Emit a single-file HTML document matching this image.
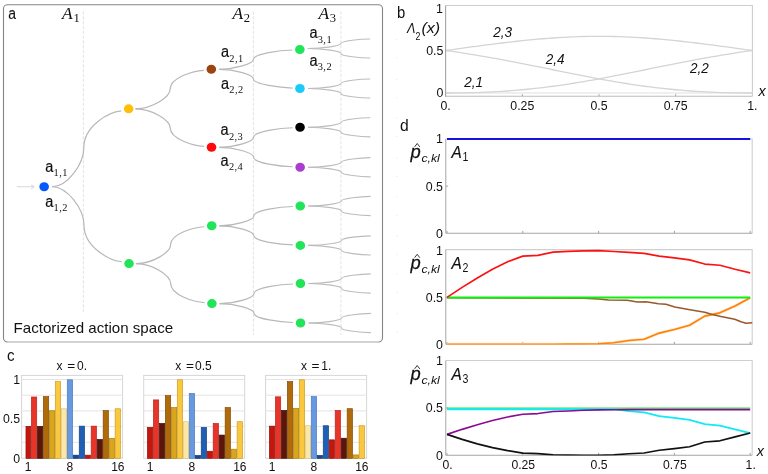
<!DOCTYPE html>
<html><head><meta charset="utf-8"><title>Factorized action space</title>
<style>
html,body{margin:0;padding:0;background:#fff;}
body{width:768px;height:474px;overflow:hidden;font-family:"Liberation Sans",sans-serif;}
svg{will-change:transform;}
svg text{white-space:pre;}
</style></head><body>
<svg width="768" height="474" viewBox="0 0 768 474" style="display:block">
<rect x="3.5" y="4.7" width="379" height="337.3" rx="4" ry="4" fill="#fff" stroke="#858585" stroke-width="1.1"/>
<line x1="7.5" y1="342" x2="378.5" y2="342" stroke="#ffffff" stroke-opacity="0.38" stroke-width="1.5"/>
<line x1="83.4" y1="11.5" x2="83.4" y2="312.5" stroke="#dcdcdc" stroke-width="0.8" stroke-dasharray="3.2 1.6"/>
<line x1="253.4" y1="11.5" x2="253.4" y2="335" stroke="#dcdcdc" stroke-width="0.8" stroke-dasharray="3.2 1.6"/>
<line x1="340.9" y1="11.5" x2="340.9" y2="335" stroke="#dcdcdc" stroke-width="0.8" stroke-dasharray="3.2 1.6"/>
<g transform="matrix(1,0,0.0026,1,-0.18,0)">
<path d="M51.85,186.75 C66.93,186.75 83.60,164.16 83.60,147.80 C83.60,125.23 109.89,111.63 121.15,110.80" fill="none" stroke="#b8b8b8" stroke-width="1.22"/>
<path d="M51.85,186.75 C66.93,186.75 83.60,209.04 83.60,225.18 C83.60,247.44 109.89,260.86 121.15,261.68" fill="none" stroke="#b8b8b8" stroke-width="1.22"/>
<path d="M135.35,108.85 C151.86,108.85 170.10,97.38 170.10,89.07 C170.10,77.62 193.76,70.71 203.90,70.29" fill="none" stroke="#b8b8b8" stroke-width="1.22"/>
<path d="M135.35,108.85 C151.86,108.85 170.10,120.00 170.10,128.07 C170.10,139.22 193.76,145.93 203.90,146.34" fill="none" stroke="#b8b8b8" stroke-width="1.22"/>
<path d="M135.35,263.60 C151.86,263.60 170.10,252.64 170.10,244.70 C170.10,233.75 193.76,227.15 203.90,226.75" fill="none" stroke="#b8b8b8" stroke-width="1.22"/>
<path d="M135.35,263.60 C151.86,263.60 170.10,275.20 170.10,283.60 C170.10,295.19 193.76,302.17 203.90,302.60" fill="none" stroke="#b8b8b8" stroke-width="1.22"/>
<path d="M219.00,69.30 C235.34,69.30 253.40,63.56 253.40,59.40 C253.40,53.66 280.77,50.21 292.50,49.99" fill="none" stroke="#b8b8b8" stroke-width="1.22"/>
<path d="M219.00,69.30 C235.34,69.30 253.40,74.87 253.40,78.90 C253.40,84.46 280.77,87.81 292.50,88.02" fill="none" stroke="#b8b8b8" stroke-width="1.22"/>
<path d="M219.00,147.30 C235.34,147.30 253.40,141.49 253.40,137.28 C253.40,131.47 280.77,127.97 292.50,127.75" fill="none" stroke="#b8b8b8" stroke-width="1.22"/>
<path d="M219.00,147.30 C235.34,147.30 253.40,153.09 253.40,157.28 C253.40,163.06 280.77,166.54 292.50,166.75" fill="none" stroke="#b8b8b8" stroke-width="1.22"/>
<path d="M219.00,225.80 C235.34,225.80 253.40,220.06 253.40,215.90 C253.40,210.16 280.77,206.71 292.50,206.50" fill="none" stroke="#b8b8b8" stroke-width="1.22"/>
<path d="M219.00,225.80 C235.34,225.80 253.40,231.48 253.40,235.60 C253.40,241.28 280.77,244.70 292.50,244.91" fill="none" stroke="#b8b8b8" stroke-width="1.22"/>
<path d="M219.00,303.60 C235.34,303.60 253.40,297.77 253.40,293.55 C253.40,287.73 280.77,284.22 292.50,284.00" fill="none" stroke="#b8b8b8" stroke-width="1.22"/>
<path d="M219.00,303.60 C235.34,303.60 253.40,309.23 253.40,313.30 C253.40,318.92 280.77,322.31 292.50,322.51" fill="none" stroke="#b8b8b8" stroke-width="1.22"/>
<path d="M307.90,48.50 C323.62,48.50 341.00,45.66 341.00,43.60 C341.00,40.76 361.44,39.05 370.20,38.95" fill="none" stroke="#bcbcbc" stroke-width="1.15"/>
<rect x="396" y="38.69" width="1" height="1" fill="#e4e4e4"/>
<path d="M307.90,48.50 C323.62,48.50 341.00,51.34 341.00,53.40 C341.00,56.24 361.44,57.95 370.20,58.05" fill="none" stroke="#bcbcbc" stroke-width="1.15"/>
<rect x="396" y="57.31" width="1" height="1" fill="#e4e4e4"/>
<path d="M307.90,88.50 C323.62,88.50 341.00,85.66 341.00,83.60 C341.00,80.76 361.44,79.05 370.20,78.95" fill="none" stroke="#bcbcbc" stroke-width="1.15"/>
<rect x="396" y="78.69" width="1" height="1" fill="#e4e4e4"/>
<path d="M307.90,88.50 C323.62,88.50 341.00,91.34 341.00,93.40 C341.00,96.24 361.44,97.95 370.20,98.05" fill="none" stroke="#bcbcbc" stroke-width="1.15"/>
<rect x="396" y="97.31" width="1" height="1" fill="#e4e4e4"/>
<path d="M307.90,127.25 C323.62,127.25 341.00,124.41 341.00,122.35 C341.00,119.51 361.44,117.80 370.20,117.70" fill="none" stroke="#bcbcbc" stroke-width="1.15"/>
<rect x="396" y="117.44" width="1" height="1" fill="#e4e4e4"/>
<path d="M307.90,127.25 C323.62,127.25 341.00,130.09 341.00,132.15 C341.00,134.99 361.44,136.70 370.20,136.81" fill="none" stroke="#bcbcbc" stroke-width="1.15"/>
<rect x="396" y="136.06" width="1" height="1" fill="#e4e4e4"/>
<path d="M307.90,167.25 C323.62,167.25 341.00,164.41 341.00,162.35 C341.00,159.51 361.44,157.80 370.20,157.69" fill="none" stroke="#bcbcbc" stroke-width="1.15"/>
<rect x="396" y="157.44" width="1" height="1" fill="#e4e4e4"/>
<path d="M307.90,167.25 C323.62,167.25 341.00,170.09 341.00,172.15 C341.00,174.99 361.44,176.70 370.20,176.81" fill="none" stroke="#bcbcbc" stroke-width="1.15"/>
<rect x="396" y="176.06" width="1" height="1" fill="#e4e4e4"/>
<path d="M307.90,206.00 C323.62,206.00 341.00,203.16 341.00,201.10 C341.00,198.26 361.44,196.55 370.20,196.44" fill="none" stroke="#bcbcbc" stroke-width="1.15"/>
<rect x="396" y="196.19" width="1" height="1" fill="#e4e4e4"/>
<path d="M307.90,206.00 C323.62,206.00 341.00,208.84 341.00,210.90 C341.00,213.74 361.44,215.45 370.20,215.56" fill="none" stroke="#bcbcbc" stroke-width="1.15"/>
<rect x="396" y="214.81" width="1" height="1" fill="#e4e4e4"/>
<path d="M307.90,245.40 C323.62,245.40 341.00,242.56 341.00,240.50 C341.00,237.66 361.44,235.95 370.20,235.84" fill="none" stroke="#bcbcbc" stroke-width="1.15"/>
<rect x="396" y="235.59" width="1" height="1" fill="#e4e4e4"/>
<path d="M307.90,245.40 C323.62,245.40 341.00,248.24 341.00,250.30 C341.00,253.14 361.44,254.85 370.20,254.96" fill="none" stroke="#bcbcbc" stroke-width="1.15"/>
<rect x="396" y="254.21" width="1" height="1" fill="#e4e4e4"/>
<path d="M307.90,283.50 C323.62,283.50 341.00,280.66 341.00,278.60 C341.00,275.76 361.44,274.05 370.20,273.94" fill="none" stroke="#bcbcbc" stroke-width="1.15"/>
<rect x="396" y="273.69" width="1" height="1" fill="#e4e4e4"/>
<path d="M307.90,283.50 C323.62,283.50 341.00,286.34 341.00,288.40 C341.00,291.24 361.44,292.95 370.20,293.06" fill="none" stroke="#bcbcbc" stroke-width="1.15"/>
<rect x="396" y="292.31" width="1" height="1" fill="#e4e4e4"/>
<path d="M307.90,323.00 C323.62,323.00 341.00,320.16 341.00,318.10 C341.00,315.26 361.44,313.55 370.20,313.44" fill="none" stroke="#bcbcbc" stroke-width="1.15"/>
<rect x="396" y="313.19" width="1" height="1" fill="#e4e4e4"/>
<path d="M307.90,323.00 C323.62,323.00 341.00,325.84 341.00,327.90 C341.00,330.74 361.44,332.45 370.20,332.56" fill="none" stroke="#bcbcbc" stroke-width="1.15"/>
<rect x="396" y="331.81" width="1" height="1" fill="#e4e4e4"/>
<path d="M16.5,186.8 H33.4" stroke="#d8d8d8" stroke-width="1.1" fill="none"/>
<path d="M30.9,184.8 L33.7,186.8 L30.9,188.8" stroke="#d8d8d8" stroke-width="1" fill="none"/>
<ellipse cx="43.85" cy="186.75" rx="4.8" ry="4.5" fill="#0459fc"/>
<ellipse cx="128.55" cy="108.85" rx="4.8" ry="4.5" fill="#ffbe08"/>
<ellipse cx="128.55" cy="263.60" rx="4.8" ry="4.5" fill="#22e459"/>
<ellipse cx="211.30" cy="69.30" rx="4.8" ry="4.5" fill="#9c4310"/>
<ellipse cx="211.30" cy="147.30" rx="4.8" ry="4.5" fill="#ff0909"/>
<ellipse cx="211.30" cy="225.80" rx="4.8" ry="4.5" fill="#22e459"/>
<ellipse cx="211.30" cy="303.60" rx="4.8" ry="4.5" fill="#22e459"/>
<ellipse cx="299.90" cy="49.50" rx="4.8" ry="4.5" fill="#22e459"/>
<ellipse cx="299.90" cy="88.50" rx="4.8" ry="4.5" fill="#19ccf8"/>
<ellipse cx="299.90" cy="127.25" rx="4.8" ry="4.5" fill="#000000"/>
<ellipse cx="299.90" cy="167.25" rx="4.8" ry="4.5" fill="#a83fd0"/>
<ellipse cx="299.90" cy="206.00" rx="4.8" ry="4.5" fill="#22e459"/>
<ellipse cx="299.90" cy="245.40" rx="4.8" ry="4.5" fill="#22e459"/>
<ellipse cx="299.90" cy="283.50" rx="4.8" ry="4.5" fill="#22e459"/>
<ellipse cx="299.90" cy="323.00" rx="4.8" ry="4.5" fill="#22e459"/>
</g>
<text transform="translate(8.2,19.4) scale(0.82,1)" style="font-family:'Liberation Sans', sans-serif;font-size:17px;" fill="#111" stroke="#111" stroke-width="0.12">a</text>
<text x="62.1" y="18.6" style="font-family:'Liberation Serif', serif;font-size:17.4px;font-style:italic;" fill="#111">A</text>
<text x="73.4" y="21.5" style="font-family:'Liberation Serif', serif;font-size:12.6px;" fill="#111">1</text>
<text x="232.5" y="18.6" style="font-family:'Liberation Serif', serif;font-size:17.4px;font-style:italic;" fill="#111">A</text>
<text x="243.8" y="21.5" style="font-family:'Liberation Serif', serif;font-size:12.6px;" fill="#111">2</text>
<text x="318.5" y="18.6" style="font-family:'Liberation Serif', serif;font-size:17.4px;font-style:italic;" fill="#111">A</text>
<text x="329.8" y="21.5" style="font-family:'Liberation Serif', serif;font-size:12.6px;" fill="#111">3</text>
<text transform="translate(45.2,172.05) scale(0.84,1)" style="font-family:'Liberation Sans', sans-serif;font-size:17.3px;" fill="#111" stroke="#111" stroke-width="0.2">a</text>
<text x="53.5" y="176.4" style="font-family:'Liberation Serif', serif;font-size:10.4px;" fill="#111" letter-spacing="0.45">1,1</text>
<text transform="translate(45.2,207.05) scale(0.84,1)" style="font-family:'Liberation Sans', sans-serif;font-size:17.3px;" fill="#111" stroke="#111" stroke-width="0.2">a</text>
<text x="53.5" y="211.4" style="font-family:'Liberation Serif', serif;font-size:10.4px;" fill="#111" letter-spacing="0.45">1,2</text>
<text transform="translate(221.0,57.25) scale(0.84,1)" style="font-family:'Liberation Sans', sans-serif;font-size:17.3px;" fill="#111" stroke="#111" stroke-width="0.2">a</text>
<text x="229.3" y="61.6" style="font-family:'Liberation Serif', serif;font-size:10.4px;" fill="#111" letter-spacing="0.45">2,1</text>
<text transform="translate(221.0,88.55) scale(0.84,1)" style="font-family:'Liberation Sans', sans-serif;font-size:17.3px;" fill="#111" stroke="#111" stroke-width="0.2">a</text>
<text x="229.3" y="92.89999999999999" style="font-family:'Liberation Serif', serif;font-size:10.4px;" fill="#111" letter-spacing="0.45">2,2</text>
<text transform="translate(220.6,135.25) scale(0.84,1)" style="font-family:'Liberation Sans', sans-serif;font-size:17.3px;" fill="#111" stroke="#111" stroke-width="0.2">a</text>
<text x="228.9" y="139.6" style="font-family:'Liberation Serif', serif;font-size:10.4px;" fill="#111" letter-spacing="0.45">2,3</text>
<text transform="translate(220.6,166.05) scale(0.84,1)" style="font-family:'Liberation Sans', sans-serif;font-size:17.3px;" fill="#111" stroke="#111" stroke-width="0.2">a</text>
<text x="228.9" y="170.4" style="font-family:'Liberation Serif', serif;font-size:10.4px;" fill="#111" letter-spacing="0.45">2,4</text>
<text transform="translate(309.4,38.25) scale(0.84,1)" style="font-family:'Liberation Sans', sans-serif;font-size:17.3px;" fill="#111" stroke="#111" stroke-width="0.2">a</text>
<text x="317.7" y="42.6" style="font-family:'Liberation Serif', serif;font-size:10.4px;" fill="#111" letter-spacing="0.45">3,1</text>
<text transform="translate(309.4,66.05) scale(0.84,1)" style="font-family:'Liberation Sans', sans-serif;font-size:17.3px;" fill="#111" stroke="#111" stroke-width="0.2">a</text>
<text x="317.7" y="70.39999999999999" style="font-family:'Liberation Serif', serif;font-size:10.4px;" fill="#111" letter-spacing="0.45">3,2</text>
<text x="13.6" y="332.6" style="font-family:'Liberation Sans', sans-serif;font-size:14.2px;" fill="#111" textLength="159.5" lengthAdjust="spacingAndGlyphs">Factorized action space</text>
<text transform="translate(7.0,361.2) scale(0.92,1)" style="font-family:'Liberation Sans', sans-serif;font-size:16.5px;" fill="#111">c</text>
<rect x="21.6" y="375.4" width="101.0" height="82.80000000000001" fill="#fff" stroke="#d6d6d6" stroke-width="1"/>
<line x1="21.6" y1="442.30" x2="122.6" y2="442.30" stroke="#e4e4e4" stroke-width="1"/>
<line x1="21.6" y1="426.60" x2="122.6" y2="426.60" stroke="#e4e4e4" stroke-width="1"/>
<line x1="21.6" y1="410.90" x2="122.6" y2="410.90" stroke="#e4e4e4" stroke-width="1"/>
<line x1="21.6" y1="395.20" x2="122.6" y2="395.20" stroke="#e4e4e4" stroke-width="1"/>
<line x1="21.6" y1="379.50" x2="122.6" y2="379.50" stroke="#e4e4e4" stroke-width="1"/>
<rect x="25.97" y="426.35" width="4.78" height="32.05" fill="#c4160c" stroke="#8d0f08" stroke-width="0.65"/>
<rect x="31.35" y="396.99" width="5.38" height="61.41" fill="#e8352a" stroke="#b3241c" stroke-width="0.65"/>
<rect x="37.34" y="426.35" width="5.38" height="32.05" fill="#5c150b" stroke="#3a0c06" stroke-width="0.65"/>
<rect x="43.32" y="396.60" width="5.38" height="61.80" fill="#b06a09" stroke="#7d4a05" stroke-width="0.65"/>
<rect x="49.30" y="410.73" width="5.38" height="47.67" fill="#d9a51d" stroke="#a67c12" stroke-width="0.65"/>
<rect x="55.28" y="381.61" width="5.38" height="76.79" fill="#fac83e" stroke="#c99a22" stroke-width="0.65"/>
<rect x="61.27" y="408.77" width="5.38" height="49.63" fill="#fde7a6" stroke="#d9c27e" stroke-width="0.65"/>
<rect x="67.25" y="379.80" width="5.38" height="78.60" fill="#6699e0" stroke="#4a78b8" stroke-width="0.65"/>
<rect x="73.23" y="455.16" width="5.38" height="3.24" fill="#18488f" stroke="#0f3266" stroke-width="0.65"/>
<rect x="79.22" y="426.12" width="5.38" height="32.28" fill="#1f5fb6" stroke="#15437f" stroke-width="0.65"/>
<rect x="85.20" y="455.16" width="5.38" height="3.24" fill="#c4160c" stroke="#8d0f08" stroke-width="0.65"/>
<rect x="91.18" y="426.12" width="5.38" height="32.28" fill="#e8352a" stroke="#b3241c" stroke-width="0.65"/>
<rect x="97.17" y="439.46" width="5.38" height="18.94" fill="#5c150b" stroke="#3a0c06" stroke-width="0.65"/>
<rect x="103.15" y="410.57" width="5.38" height="47.83" fill="#b06a09" stroke="#7d4a05" stroke-width="0.65"/>
<rect x="109.13" y="438.28" width="5.38" height="20.12" fill="#d9a51d" stroke="#a67c12" stroke-width="0.65"/>
<rect x="115.11" y="408.77" width="5.38" height="49.63" fill="#fac83e" stroke="#c99a22" stroke-width="0.65"/>
<text x="56.6" y="369.5" style="font-family:'Liberation Sans', sans-serif;font-size:12px;" fill="#111">x</text>
<text transform="translate(67.3,369.5) scale(1.14,1)" style="font-family:'Liberation Sans', sans-serif;font-size:12px;" fill="#111">=</text>
<text x="77.0" y="369.5" style="font-family:'Liberation Sans', sans-serif;font-size:12px;" fill="#111">0.</text>
<text x="28.0615" y="470.7" style="font-family:'Liberation Sans', sans-serif;font-size:12.0px;" fill="#111" text-anchor="middle">1</text>
<text x="69.9425" y="470.7" style="font-family:'Liberation Sans', sans-serif;font-size:12.0px;" fill="#111" text-anchor="middle">8</text>
<text x="117.8065" y="470.7" style="font-family:'Liberation Sans', sans-serif;font-size:12.0px;" fill="#111" text-anchor="middle">16</text>
<text x="20.0" y="383.9" style="font-family:'Liberation Sans', sans-serif;font-size:12.3px;" fill="#111" text-anchor="end">1</text>
<text x="20.0" y="423.15" style="font-family:'Liberation Sans', sans-serif;font-size:12.3px;" fill="#111" text-anchor="end">0.5</text>
<text x="20.0" y="463.0" style="font-family:'Liberation Sans', sans-serif;font-size:12.3px;" fill="#111" text-anchor="end">0</text>
<rect x="143.7" y="375.4" width="101.0" height="82.80000000000001" fill="#fff" stroke="#d6d6d6" stroke-width="1"/>
<line x1="143.7" y1="442.30" x2="244.7" y2="442.30" stroke="#e4e4e4" stroke-width="1"/>
<line x1="143.7" y1="426.60" x2="244.7" y2="426.60" stroke="#e4e4e4" stroke-width="1"/>
<line x1="143.7" y1="410.90" x2="244.7" y2="410.90" stroke="#e4e4e4" stroke-width="1"/>
<line x1="143.7" y1="395.20" x2="244.7" y2="395.20" stroke="#e4e4e4" stroke-width="1"/>
<line x1="143.7" y1="379.50" x2="244.7" y2="379.50" stroke="#e4e4e4" stroke-width="1"/>
<rect x="147.37" y="427.37" width="5.38" height="31.03" fill="#c4160c" stroke="#8d0f08" stroke-width="0.65"/>
<rect x="153.35" y="399.90" width="5.38" height="58.50" fill="#e8352a" stroke="#b3241c" stroke-width="0.65"/>
<rect x="159.34" y="423.45" width="5.38" height="34.95" fill="#5c150b" stroke="#3a0c06" stroke-width="0.65"/>
<rect x="165.32" y="395.66" width="5.38" height="62.74" fill="#b06a09" stroke="#7d4a05" stroke-width="0.65"/>
<rect x="171.30" y="407.59" width="5.38" height="50.81" fill="#d9a51d" stroke="#a67c12" stroke-width="0.65"/>
<rect x="177.28" y="379.80" width="5.38" height="78.60" fill="#fac83e" stroke="#c99a22" stroke-width="0.65"/>
<rect x="183.27" y="421.72" width="5.38" height="36.68" fill="#fde7a6" stroke="#d9c27e" stroke-width="0.65"/>
<rect x="189.25" y="393.38" width="5.38" height="65.02" fill="#6699e0" stroke="#4a78b8" stroke-width="0.65"/>
<rect x="195.23" y="455.47" width="5.38" height="2.93" fill="#18488f" stroke="#0f3266" stroke-width="0.65"/>
<rect x="201.22" y="427.37" width="5.38" height="31.03" fill="#1f5fb6" stroke="#15437f" stroke-width="0.65"/>
<rect x="207.20" y="451.24" width="5.38" height="7.16" fill="#c4160c" stroke="#8d0f08" stroke-width="0.65"/>
<rect x="213.18" y="423.45" width="5.38" height="34.95" fill="#e8352a" stroke="#b3241c" stroke-width="0.65"/>
<rect x="219.17" y="435.06" width="5.38" height="23.34" fill="#5c150b" stroke="#3a0c06" stroke-width="0.65"/>
<rect x="225.15" y="407.59" width="5.38" height="50.81" fill="#b06a09" stroke="#7d4a05" stroke-width="0.65"/>
<rect x="231.13" y="449.19" width="5.38" height="9.21" fill="#d9a51d" stroke="#a67c12" stroke-width="0.65"/>
<rect x="237.12" y="421.72" width="5.38" height="36.68" fill="#fac83e" stroke="#c99a22" stroke-width="0.65"/>
<text x="175.3" y="369.5" style="font-family:'Liberation Sans', sans-serif;font-size:12px;" fill="#111">x</text>
<text transform="translate(186.0,369.5) scale(1.14,1)" style="font-family:'Liberation Sans', sans-serif;font-size:12px;" fill="#111">=</text>
<text x="195.00000000000003" y="369.5" style="font-family:'Liberation Sans', sans-serif;font-size:12px;" fill="#111">0.5</text>
<text x="150.0615" y="470.7" style="font-family:'Liberation Sans', sans-serif;font-size:12.0px;" fill="#111" text-anchor="middle">1</text>
<text x="191.9425" y="470.7" style="font-family:'Liberation Sans', sans-serif;font-size:12.0px;" fill="#111" text-anchor="middle">8</text>
<text x="239.80649999999997" y="470.7" style="font-family:'Liberation Sans', sans-serif;font-size:12.0px;" fill="#111" text-anchor="middle">16</text>
<rect x="265.6" y="375.4" width="101.0" height="82.80000000000001" fill="#fff" stroke="#d6d6d6" stroke-width="1"/>
<line x1="265.6" y1="442.30" x2="366.6" y2="442.30" stroke="#e4e4e4" stroke-width="1"/>
<line x1="265.6" y1="426.60" x2="366.6" y2="426.60" stroke="#e4e4e4" stroke-width="1"/>
<line x1="265.6" y1="410.90" x2="366.6" y2="410.90" stroke="#e4e4e4" stroke-width="1"/>
<line x1="265.6" y1="395.20" x2="366.6" y2="395.20" stroke="#e4e4e4" stroke-width="1"/>
<line x1="265.6" y1="379.50" x2="366.6" y2="379.50" stroke="#e4e4e4" stroke-width="1"/>
<rect x="269.37" y="426.12" width="5.38" height="32.28" fill="#c4160c" stroke="#8d0f08" stroke-width="0.65"/>
<rect x="275.35" y="396.83" width="5.38" height="61.57" fill="#e8352a" stroke="#b3241c" stroke-width="0.65"/>
<rect x="281.34" y="410.42" width="5.38" height="47.98" fill="#5c150b" stroke="#3a0c06" stroke-width="0.65"/>
<rect x="287.32" y="381.53" width="5.38" height="76.87" fill="#b06a09" stroke="#7d4a05" stroke-width="0.65"/>
<rect x="293.30" y="408.45" width="5.38" height="49.95" fill="#d9a51d" stroke="#a67c12" stroke-width="0.65"/>
<rect x="299.29" y="379.80" width="5.38" height="78.60" fill="#fac83e" stroke="#c99a22" stroke-width="0.65"/>
<rect x="305.27" y="425.72" width="5.38" height="32.68" fill="#fde7a6" stroke="#d9c27e" stroke-width="0.65"/>
<rect x="311.25" y="396.52" width="5.38" height="61.88" fill="#6699e0" stroke="#4a78b8" stroke-width="0.65"/>
<rect x="317.23" y="455.47" width="5.38" height="2.93" fill="#18488f" stroke="#0f3266" stroke-width="0.65"/>
<rect x="323.22" y="425.72" width="5.38" height="32.68" fill="#1f5fb6" stroke="#15437f" stroke-width="0.65"/>
<rect x="329.20" y="439.85" width="5.38" height="18.55" fill="#c4160c" stroke="#8d0f08" stroke-width="0.65"/>
<rect x="335.18" y="410.42" width="5.38" height="47.98" fill="#e8352a" stroke="#b3241c" stroke-width="0.65"/>
<rect x="341.17" y="438.20" width="5.38" height="20.20" fill="#5c150b" stroke="#3a0c06" stroke-width="0.65"/>
<rect x="347.15" y="408.69" width="5.38" height="49.71" fill="#b06a09" stroke="#7d4a05" stroke-width="0.65"/>
<rect x="353.13" y="454.92" width="5.38" height="3.48" fill="#d9a51d" stroke="#a67c12" stroke-width="0.65"/>
<rect x="359.12" y="425.72" width="5.38" height="32.68" fill="#fac83e" stroke="#c99a22" stroke-width="0.65"/>
<text x="300.9" y="369.5" style="font-family:'Liberation Sans', sans-serif;font-size:12px;" fill="#111">x</text>
<text transform="translate(311.59999999999997,369.5) scale(1.14,1)" style="font-family:'Liberation Sans', sans-serif;font-size:12px;" fill="#111">=</text>
<text x="321.29999999999995" y="369.5" style="font-family:'Liberation Sans', sans-serif;font-size:12px;" fill="#111">1.</text>
<text x="272.06149999999997" y="470.7" style="font-family:'Liberation Sans', sans-serif;font-size:12.0px;" fill="#111" text-anchor="middle">1</text>
<text x="313.9425" y="470.7" style="font-family:'Liberation Sans', sans-serif;font-size:12.0px;" fill="#111" text-anchor="middle">8</text>
<text x="361.80649999999997" y="470.7" style="font-family:'Liberation Sans', sans-serif;font-size:12.0px;" fill="#111" text-anchor="middle">16</text>
<text transform="translate(397.0,17.5) scale(0.9,1)" style="font-family:'Liberation Sans', sans-serif;font-size:16.5px;" fill="#111">b</text>
<path d="M445.6,5.5 H752.4 V96.3" fill="none" stroke="#cdcdcd" stroke-width="1.1"/>
<path d="M445.60,93.00 L450.71,93.00 L455.83,93.00 L460.94,93.00 L466.05,93.00 L471.17,93.00 L476.28,93.00 L481.39,93.00 L486.51,93.00 L491.62,93.00 L496.73,93.00 L501.85,93.00 L506.96,93.00 L512.07,93.00 L517.19,93.00 L522.30,93.00 L527.41,93.00 L532.53,93.00 L537.64,93.00 L542.75,93.00 L547.87,93.00 L552.98,93.00 L558.09,93.00 L563.21,93.00 L568.32,93.00 L573.43,93.00 L578.55,93.00 L583.66,93.00 L588.77,93.00 L593.89,93.00 L599.00,93.00 L604.11,93.00 L609.23,93.00 L614.34,93.00 L619.45,93.00 L624.57,93.00 L629.68,93.00 L634.79,93.00 L639.91,93.00 L645.02,93.00 L650.13,93.00 L655.25,93.00 L660.36,93.00 L665.47,93.00 L670.59,93.00 L675.70,93.00 L680.81,93.00 L685.93,93.00 L691.04,93.00 L696.15,93.00 L701.27,93.00 L706.38,93.00 L711.49,93.00 L716.61,93.00 L721.72,93.00 L726.83,93.00 L731.95,93.00 L737.06,93.00 L742.17,93.00 L747.29,93.00 L752.40,93.00" fill="none" stroke="#e0e0e0" stroke-width="1.2"/>
<path d="M445.60,50.50 L450.71,49.79 L455.83,49.08 L460.94,48.38 L466.05,47.68 L471.17,46.98 L476.28,46.30 L481.39,45.62 L486.51,44.95 L491.62,44.29 L496.73,43.65 L501.85,43.02 L506.96,42.40 L512.07,41.81 L517.19,41.24 L522.30,40.69 L527.41,40.17 L532.53,39.67 L537.64,39.20 L542.75,38.76 L547.87,38.36 L552.98,37.98 L558.09,37.65 L563.21,37.34 L568.32,37.08 L573.43,36.85 L578.55,36.67 L583.66,36.52 L588.77,36.42 L593.89,36.35 L599.00,36.33 L604.11,36.35 L609.23,36.42 L614.34,36.52 L619.45,36.67 L624.57,36.85 L629.68,37.08 L634.79,37.34 L639.91,37.65 L645.02,37.98 L650.13,38.36 L655.25,38.76 L660.36,39.20 L665.47,39.67 L670.59,40.17 L675.70,40.69 L680.81,41.24 L685.93,41.81 L691.04,42.40 L696.15,43.02 L701.27,43.65 L706.38,44.29 L711.49,44.95 L716.61,45.62 L721.72,46.30 L726.83,46.98 L731.95,47.68 L737.06,48.38 L742.17,49.08 L747.29,49.79 L752.40,50.50" fill="none" stroke="#d4d4d4" stroke-width="1.3"/>
<path d="M445.60,50.50 L450.71,51.22 L455.83,51.96 L460.94,52.73 L466.05,53.52 L471.17,54.33 L476.28,55.17 L481.39,56.03 L486.51,56.91 L491.62,57.81 L496.73,58.73 L501.85,59.66 L506.96,60.62 L512.07,61.59 L517.19,62.58 L522.30,63.58 L527.41,64.59 L532.53,65.61 L537.64,66.64 L542.75,67.67 L547.87,68.71 L552.98,69.76 L558.09,70.80 L563.21,71.84 L568.32,72.87 L573.43,73.89 L578.55,74.91 L583.66,75.92 L588.77,76.91 L593.89,77.88 L599.00,78.83 L604.11,79.77 L609.23,80.68 L614.34,81.56 L619.45,82.42 L624.57,83.25 L629.68,84.05 L634.79,84.82 L639.91,85.56 L645.02,86.26 L650.13,86.93 L655.25,87.56 L660.36,88.16 L665.47,88.72 L670.59,89.24 L675.70,89.73 L680.81,90.18 L685.93,90.60 L691.04,90.98 L696.15,91.32 L701.27,91.63 L706.38,91.90 L711.49,92.15 L716.61,92.36 L721.72,92.53 L726.83,92.68 L731.95,92.80 L737.06,92.89 L742.17,92.95 L747.29,92.99 L752.40,93.00" fill="none" stroke="#d4d4d4" stroke-width="1.3"/>
<path d="M445.60,93.00 L450.71,92.99 L455.83,92.95 L460.94,92.89 L466.05,92.80 L471.17,92.68 L476.28,92.53 L481.39,92.36 L486.51,92.15 L491.62,91.90 L496.73,91.63 L501.85,91.32 L506.96,90.98 L512.07,90.60 L517.19,90.18 L522.30,89.73 L527.41,89.24 L532.53,88.72 L537.64,88.16 L542.75,87.56 L547.87,86.93 L552.98,86.26 L558.09,85.56 L563.21,84.82 L568.32,84.05 L573.43,83.25 L578.55,82.42 L583.66,81.56 L588.77,80.68 L593.89,79.77 L599.00,78.83 L604.11,77.88 L609.23,76.91 L614.34,75.92 L619.45,74.91 L624.57,73.89 L629.68,72.87 L634.79,71.84 L639.91,70.80 L645.02,69.76 L650.13,68.71 L655.25,67.67 L660.36,66.64 L665.47,65.61 L670.59,64.59 L675.70,63.58 L680.81,62.58 L685.93,61.59 L691.04,60.62 L696.15,59.66 L701.27,58.73 L706.38,57.81 L711.49,56.91 L716.61,56.03 L721.72,55.17 L726.83,54.33 L731.95,53.52 L737.06,52.73 L742.17,51.96 L747.29,51.22 L752.40,50.50" fill="none" stroke="#d4d4d4" stroke-width="1.3"/>
<path d="M445.6,96.3 H752.4" fill="none" stroke="#bdbdbd" stroke-width="1.1"/>
<path d="M445.6,5.5 V96.8" fill="none" stroke="#a4a4a4" stroke-width="1.1"/>
<text x="442.8" y="12.9" style="font-family:'Liberation Sans', sans-serif;font-size:12.4px;" fill="#111" text-anchor="end">1</text>
<text x="443.4" y="54.9" style="font-family:'Liberation Sans', sans-serif;font-size:12.4px;" fill="#111" text-anchor="end">0.5</text>
<text x="443.4" y="97.4" style="font-family:'Liberation Sans', sans-serif;font-size:12.4px;" fill="#111" text-anchor="end">0</text>
<text x="445.6" y="110.0" style="font-family:'Liberation Sans', sans-serif;font-size:12.3px;" fill="#111" text-anchor="middle">0.</text>
<text x="522.3" y="110.0" style="font-family:'Liberation Sans', sans-serif;font-size:12.3px;" fill="#111" text-anchor="middle">0.25</text>
<line x1="522.30" y1="96.3" x2="522.30" y2="94.1" stroke="#a8a8a8" stroke-width="1"/>
<text x="599.0" y="110.0" style="font-family:'Liberation Sans', sans-serif;font-size:12.3px;" fill="#111" text-anchor="middle">0.5</text>
<line x1="599.00" y1="96.3" x2="599.00" y2="94.1" stroke="#a8a8a8" stroke-width="1"/>
<text x="675.7" y="110.0" style="font-family:'Liberation Sans', sans-serif;font-size:12.3px;" fill="#111" text-anchor="middle">0.75</text>
<line x1="675.70" y1="96.3" x2="675.70" y2="94.1" stroke="#a8a8a8" stroke-width="1"/>
<text x="752.4" y="110.0" style="font-family:'Liberation Sans', sans-serif;font-size:12.3px;" fill="#111" text-anchor="middle">1.</text>
<text x="758.6" y="96.4" style="font-family:'Liberation Sans', sans-serif;font-size:14.4px;font-style:italic;" fill="#111">x</text>
<text x="493.2" y="37.2" style="font-family:'Liberation Sans', sans-serif;font-size:13.9px;font-style:italic;" fill="#111" textLength="18.8" lengthAdjust="spacingAndGlyphs">2,3</text>
<text x="545.8" y="63.5" style="font-family:'Liberation Sans', sans-serif;font-size:13.9px;font-style:italic;" fill="#111" textLength="18.8" lengthAdjust="spacingAndGlyphs">2,4</text>
<text x="464.2" y="86.5" style="font-family:'Liberation Sans', sans-serif;font-size:13.9px;font-style:italic;" fill="#111" textLength="18.8" lengthAdjust="spacingAndGlyphs">2,1</text>
<text x="690.0" y="73.3" style="font-family:'Liberation Sans', sans-serif;font-size:13.9px;font-style:italic;" fill="#111" textLength="18.8" lengthAdjust="spacingAndGlyphs">2,2</text>
<text transform="translate(407.0,32.75) scale(0.82,1)" style="font-family:'Liberation Sans', sans-serif;font-size:15.3px;font-style:italic;" fill="#111">Λ</text>
<text transform="translate(415.6,39.75) scale(0.85,1)" style="font-family:'Liberation Sans', sans-serif;font-size:10.4px;" fill="#111">2</text>
<text x="421.4" y="32.6" style="font-family:'Liberation Sans', sans-serif;font-size:15.2px;font-style:italic;" fill="#111" textLength="18.7" lengthAdjust="spacingAndGlyphs">(x)</text>
<text transform="translate(399.9,130.9) scale(0.95,1)" style="font-family:'Liberation Sans', sans-serif;font-size:16.5px;" fill="#111">d</text>
<path d="M445.8,139.0 H752.2 V233.25" fill="none" stroke="#cfcfcf" stroke-width="1.1"/>
<path d="M445.8,139.0 V233.25 H752.2" fill="none" stroke="#a6a6a6" stroke-width="1.0"/>
<line x1="447.00" y1="233.25" x2="447.00" y2="230.85" stroke="#a3a3a3" stroke-width="1"/>
<line x1="522.80" y1="233.25" x2="522.80" y2="230.85" stroke="#a3a3a3" stroke-width="1"/>
<line x1="598.60" y1="233.25" x2="598.60" y2="230.85" stroke="#a3a3a3" stroke-width="1"/>
<line x1="674.40" y1="233.25" x2="674.40" y2="230.85" stroke="#a3a3a3" stroke-width="1"/>
<line x1="750.20" y1="233.25" x2="750.20" y2="230.85" stroke="#a3a3a3" stroke-width="1"/>
<line x1="445.8" y1="186.12" x2="448.2" y2="186.12" stroke="#a3a3a3" stroke-width="1"/>
<text x="443.0" y="143.4" style="font-family:'Liberation Sans', sans-serif;font-size:12.4px;" fill="#111" text-anchor="end">1</text>
<text x="443.0" y="190.525" style="font-family:'Liberation Sans', sans-serif;font-size:12.4px;" fill="#111" text-anchor="end">0.5</text>
<text x="443.0" y="237.65" style="font-family:'Liberation Sans', sans-serif;font-size:12.4px;" fill="#111" text-anchor="end">0</text>
<text transform="translate(451.6,157.75) scale(0.92,1)" style="font-family:'Liberation Sans', sans-serif;font-size:16.7px;font-style:italic;" fill="#111" stroke="#111" stroke-width="0.2">A</text>
<text transform="translate(462.6,160.9) scale(0.85,1)" style="font-family:'Liberation Sans', sans-serif;font-size:12.5px;" fill="#111">1</text>
<text transform="translate(410.5,157.75) scale(1.02,1)" style="font-family:'Liberation Sans', sans-serif;font-size:18px;font-style:italic;" fill="#111" stroke="#111" stroke-width="0.25">p</text>
<path d="M414.6,146.9 L417.2,143.5 L419.8,146.9" fill="none" stroke="#222" stroke-width="0.9"/>
<text x="421.4" y="162.1" style="font-family:'Liberation Sans', sans-serif;font-size:11.5px;font-style:italic;" fill="#111" textLength="18.4" lengthAdjust="spacingAndGlyphs">c,kl</text>
<line x1="447.0" y1="139.0" x2="750.2" y2="139.0" stroke="#1414dc" stroke-width="2"/>
<clipPath id="cp0"><rect x="445.8" y="137.0" width="307.40000000000003" height="96.6"/></clipPath>
<g clip-path="url(#cp0)">
</g>
<path d="M445.8,249.6 H752.2 V344.25" fill="none" stroke="#cfcfcf" stroke-width="1.1"/>
<path d="M445.8,249.6 V344.25 H752.2" fill="none" stroke="#a6a6a6" stroke-width="1.0"/>
<line x1="447.00" y1="344.25" x2="447.00" y2="341.85" stroke="#a3a3a3" stroke-width="1"/>
<line x1="522.80" y1="344.25" x2="522.80" y2="341.85" stroke="#a3a3a3" stroke-width="1"/>
<line x1="598.60" y1="344.25" x2="598.60" y2="341.85" stroke="#a3a3a3" stroke-width="1"/>
<line x1="674.40" y1="344.25" x2="674.40" y2="341.85" stroke="#a3a3a3" stroke-width="1"/>
<line x1="750.20" y1="344.25" x2="750.20" y2="341.85" stroke="#a3a3a3" stroke-width="1"/>
<line x1="445.8" y1="297.40" x2="448.2" y2="297.40" stroke="#a3a3a3" stroke-width="1"/>
<text x="443.0" y="254.95000000000002" style="font-family:'Liberation Sans', sans-serif;font-size:12.4px;" fill="#111" text-anchor="end">1</text>
<text x="443.0" y="301.79999999999995" style="font-family:'Liberation Sans', sans-serif;font-size:12.4px;" fill="#111" text-anchor="end">0.5</text>
<text x="443.0" y="348.65" style="font-family:'Liberation Sans', sans-serif;font-size:12.4px;" fill="#111" text-anchor="end">0</text>
<text transform="translate(451.6,268.55) scale(0.92,1)" style="font-family:'Liberation Sans', sans-serif;font-size:16.7px;font-style:italic;" fill="#111" stroke="#111" stroke-width="0.2">A</text>
<text transform="translate(462.6,271.7) scale(0.85,1)" style="font-family:'Liberation Sans', sans-serif;font-size:12.5px;" fill="#111">2</text>
<text transform="translate(410.5,268.55) scale(1.02,1)" style="font-family:'Liberation Sans', sans-serif;font-size:18px;font-style:italic;" fill="#111" stroke="#111" stroke-width="0.25">p</text>
<path d="M414.6,257.7 L417.2,254.3 L419.8,257.7" fill="none" stroke="#222" stroke-width="0.9"/>
<text x="421.4" y="272.90000000000003" style="font-family:'Liberation Sans', sans-serif;font-size:11.5px;font-style:italic;" fill="#111" textLength="18.4" lengthAdjust="spacingAndGlyphs">c,kl</text>
<clipPath id="cp1"><rect x="445.8" y="247.6" width="307.40000000000003" height="97.0"/></clipPath>
<g clip-path="url(#cp1)">
<path d="M447.00,344.25 L462.16,344.25 L477.32,344.25 L492.48,344.25 L507.64,344.25 L522.80,344.25 L537.96,344.25 L553.12,344.25 L568.28,344.16 L583.44,344.06 L598.60,343.88 L613.76,342.75 L628.92,340.50 L644.08,339.28 L659.24,333.10 L674.40,329.45 L689.56,325.23 L704.72,316.14 L719.88,312.86 L735.04,305.93 L750.20,297.68" fill="none" stroke="#ffe2c4" stroke-width="2.8" stroke-linejoin="round"/>
<path d="M447.00,344.25 L462.16,344.25 L477.32,344.25 L492.48,344.25 L507.64,344.25 L522.80,344.25 L537.96,344.25 L553.12,344.25 L568.28,344.16 L583.44,344.06 L598.60,343.88 L613.76,342.75 L628.92,340.50 L644.08,339.28 L659.24,333.10 L674.40,329.45 L689.56,325.23 L704.72,316.14 L719.88,312.86 L735.04,305.93 L750.20,297.68" fill="none" stroke="#ff8206" stroke-width="1.65" stroke-linejoin="round"/>
<path d="M447.00,297.68 L583.44,298.15 L598.50,299.00 L608.50,300.00 L627.25,300.25 L637.25,302.00 L646.00,301.75 L658.50,303.75 L666.00,304.25 L674.75,307.00 L688.50,309.50 L704.75,312.25 L712.25,314.50 L721.00,316.50 L734.75,319.25 L741.00,321.75 L746.00,323.25 L752.25,322.75" fill="none" stroke="#98592c" stroke-width="1.6" stroke-linejoin="round"/>
<line x1="447.0" y1="297.40" x2="750.2" y2="297.40" stroke="#0fee0f" stroke-width="2.0"/>
<path d="M447.00,297.40 L462.16,287.37 L477.32,277.91 L492.48,269.29 L507.64,261.79 L522.80,256.17 L537.96,255.33 L553.12,252.05 L568.28,251.30 L583.44,250.83 L598.60,250.55 L613.76,251.49 L628.92,252.42 L644.08,253.45 L659.24,256.17 L674.40,257.95 L689.56,259.92 L704.72,264.04 L719.88,265.26 L735.04,269.29 L750.20,272.85" fill="none" stroke="#fb1212" stroke-width="1.7" stroke-linejoin="round"/>
</g>
<path d="M445.8,360.5 H752.2 V455.25" fill="none" stroke="#cfcfcf" stroke-width="1.1"/>
<path d="M445.8,360.5 V455.25 H752.2" fill="none" stroke="#a6a6a6" stroke-width="1.0"/>
<line x1="447.00" y1="455.25" x2="447.00" y2="452.85" stroke="#a3a3a3" stroke-width="1"/>
<line x1="522.80" y1="455.25" x2="522.80" y2="452.85" stroke="#a3a3a3" stroke-width="1"/>
<line x1="598.60" y1="455.25" x2="598.60" y2="452.85" stroke="#a3a3a3" stroke-width="1"/>
<line x1="674.40" y1="455.25" x2="674.40" y2="452.85" stroke="#a3a3a3" stroke-width="1"/>
<line x1="750.20" y1="455.25" x2="750.20" y2="452.85" stroke="#a3a3a3" stroke-width="1"/>
<line x1="445.8" y1="408.00" x2="448.2" y2="408.00" stroke="#a3a3a3" stroke-width="1"/>
<text x="443.0" y="365.15" style="font-family:'Liberation Sans', sans-serif;font-size:12.4px;" fill="#111" text-anchor="end">1</text>
<text x="443.0" y="412.4" style="font-family:'Liberation Sans', sans-serif;font-size:12.4px;" fill="#111" text-anchor="end">0.5</text>
<text x="443.0" y="459.65" style="font-family:'Liberation Sans', sans-serif;font-size:12.4px;" fill="#111" text-anchor="end">0</text>
<text transform="translate(451.6,379.75) scale(0.92,1)" style="font-family:'Liberation Sans', sans-serif;font-size:16.7px;font-style:italic;" fill="#111" stroke="#111" stroke-width="0.2">A</text>
<text transform="translate(462.6,382.9) scale(0.85,1)" style="font-family:'Liberation Sans', sans-serif;font-size:12.5px;" fill="#111">3</text>
<text transform="translate(410.5,379.75) scale(1.02,1)" style="font-family:'Liberation Sans', sans-serif;font-size:18px;font-style:italic;" fill="#111" stroke="#111" stroke-width="0.25">p</text>
<path d="M414.6,368.9 L417.2,365.5 L419.8,368.9" fill="none" stroke="#222" stroke-width="0.9"/>
<text x="421.4" y="384.1" style="font-family:'Liberation Sans', sans-serif;font-size:11.5px;font-style:italic;" fill="#111" textLength="18.4" lengthAdjust="spacingAndGlyphs">c,kl</text>
<clipPath id="cp2"><rect x="445.8" y="358.5" width="307.40000000000003" height="97.1"/></clipPath>
<g clip-path="url(#cp2)">
<line x1="447.0" y1="408.09" x2="750.2" y2="408.09" stroke="#2fe23c" stroke-width="1.3"/>
<path d="M447.00,409.23 L462.16,409.23 L477.32,409.23 L492.48,409.23 L507.64,409.23 L522.80,409.23 L537.96,409.23 L553.12,409.23 L568.28,409.23 L583.44,409.23 L598.60,409.23 L613.76,409.23 L628.92,411.12 L644.08,412.35 L659.24,416.13 L674.40,417.83 L689.56,419.81 L704.72,424.06 L719.88,425.58 L735.04,429.36 L750.20,433.04" fill="none" stroke="#10eaf6" stroke-width="1.8" stroke-linejoin="round"/>
<path d="M447.00,434.37 L462.16,429.36 L477.32,424.82 L492.48,420.47 L507.64,416.98 L522.80,414.24 L537.96,413.58 L553.12,411.50 L568.28,410.93 L583.44,410.27 L598.60,409.89 L613.76,409.70 L628.92,409.61 L644.08,409.61 L659.24,409.61 L674.40,409.61 L689.56,409.61 L704.72,409.61 L719.88,409.61 L735.04,409.61 L750.20,409.61" fill="none" stroke="#8a0a96" stroke-width="1.6" stroke-linejoin="round"/>
<path d="M447.00,434.37 L462.16,439.37 L477.32,443.91 L492.48,447.69 L507.64,450.62 L522.80,453.08 L537.96,453.55 L553.12,454.87 L568.28,455.16 L583.44,455.25 L598.60,455.25 L613.76,454.78 L628.92,453.74 L644.08,452.98 L659.24,450.24 L674.40,448.54 L689.56,446.75 L704.72,442.02 L719.88,440.79 L735.04,436.82 L750.20,433.04" fill="none" stroke="#111111" stroke-width="1.7" stroke-linejoin="round"/>
</g>
<text x="447.5" y="469.3" style="font-family:'Liberation Sans', sans-serif;font-size:12.2px;" fill="#111" text-anchor="middle">0.</text>
<text x="523.3" y="469.3" style="font-family:'Liberation Sans', sans-serif;font-size:12.2px;" fill="#111" text-anchor="middle">0.25</text>
<text x="599.1" y="469.3" style="font-family:'Liberation Sans', sans-serif;font-size:12.2px;" fill="#111" text-anchor="middle">0.5</text>
<text x="674.9000000000001" y="469.3" style="font-family:'Liberation Sans', sans-serif;font-size:12.2px;" fill="#111" text-anchor="middle">0.75</text>
<text x="750.7" y="469.3" style="font-family:'Liberation Sans', sans-serif;font-size:12.2px;" fill="#111" text-anchor="middle">1.</text>
<text x="756.8" y="455.6" style="font-family:'Liberation Sans', sans-serif;font-size:14.4px;font-style:italic;" fill="#111">x</text>
</svg>
</body></html>
